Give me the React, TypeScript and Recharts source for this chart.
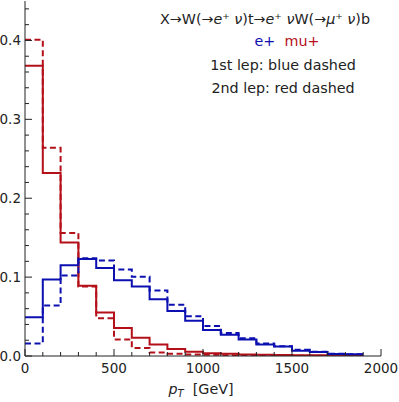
import { Line, LineChart, XAxis, YAxis } from "recharts"

// bin left edges (GeV); last edge closes the final bin
const binEdges = [0, 100, 200, 300, 400, 500, 600, 700, 800, 900, 1000, 1100, 1200, 1300, 1400, 1500, 1600, 1700, 1800, 1900]

const redSolid = [0.368, 0.232, 0.144, 0.089, 0.055, 0.0355, 0.023, 0.0145, 0.009, 0.0055, 0.0035, 0.003, 0.002, 0.0015, 0.0012, 0.001, 0.0008, 0.0006, 0.0005]
const redDashed = [0.401, 0.264, 0.156, 0.088, 0.048, 0.021, 0.01, 0.0045, 0.003, 0.002, 0.0015, 0.001, 0.0008, 0.0006, 0.0005, 0.0004, 0.0003, 0.0002, 0.0002]
const blueSolid = [0.049, 0.097, 0.115, 0.123, 0.1115, 0.096, 0.088, 0.072, 0.057, 0.0446, 0.033, 0.027, 0.021, 0.0145, 0.012, 0.0065, 0.005, 0.0025, 0.0022]
const blueDashed = [0.016, 0.064, 0.102, 0.124, 0.121, 0.1095, 0.1005, 0.083, 0.065, 0.0505, 0.038, 0.029, 0.0225, 0.016, 0.0125, 0.0078, 0.0055, 0.003, 0.0022]

const xTicks = [0, 100, 200, 300, 400, 500, 600, 700, 800, 900, 1000, 1100, 1200, 1300, 1400, 1500, 1600, 1700, 1800, 1900, 2000]
const yTicks = [0, 0.02, 0.04, 0.06, 0.08, 0.1, 0.12, 0.14, 0.16, 0.18, 0.2, 0.22, 0.24, 0.26, 0.28, 0.3, 0.32, 0.34, 0.36, 0.38, 0.4, 0.42, 0.44]

const BLUE = "#0c10b0"
const RED = "#b4101a"
const FRAME = "#222"
const FONT = "DejaVu Sans, sans-serif"

const last = blueSolid.length - 1
const data = binEdges.map((x, i) => ({
  x,
  rs: redSolid[Math.min(i, last)],
  rd: redDashed[Math.min(i, last)],
  bs: blueSolid[Math.min(i, last)],
  bd: blueDashed[Math.min(i, last)],
}))

const isMajorX = (v: number) => v % 500 === 0
const isMajorY = (v: number) => Math.abs(v * 10 - Math.round(v * 10)) < 1e-6

const BottomTick = ({ x, y, payload }: any) => {
  const major = isMajorX(payload.value)
  return (
    <g>
      <line x1={x} x2={x} y1={y} y2={y - (major ? 7 : 4)} stroke={FRAME} />
      {major && (
        <text x={x} y={y + 17} textAnchor="middle" fontSize={13.5} fontFamily={FONT} fill={FRAME}>
          {payload.value}
        </text>
      )}
    </g>
  )
}

const TopTick = ({ x, y, payload }: any) => (
  <line x1={x} x2={x} y1={y} y2={y + (isMajorX(payload.value) ? 7 : 4)} stroke={FRAME} />
)

const LeftTick = ({ x, y, payload }: any) => {
  const major = isMajorY(payload.value)
  return (
    <g>
      <line x1={x} x2={x + (major ? 7 : 4)} y1={y} y2={y} stroke={FRAME} />
      {major && (
        <text x={x - 4} y={y} dy="0.36em" textAnchor="end" fontSize={13.5} fontFamily={FONT} fill={FRAME}>
          {payload.value.toFixed(1)}
        </text>
      )}
    </g>
  )
}

const RightTick = ({ x, y, payload }: any) => (
  <line x1={x} x2={x - (isMajorY(payload.value) ? 7 : 4)} y1={y} y2={y} stroke={FRAME} />
)

export default function App() {
  return (
    <div style={{ position: "absolute", left: 0, top: 0, width: 399, height: 402, background: "#fff" }}>
      <LineChart width={399} height={402} data={data} margin={{ top: 1, right: 18, left: 0, bottom: 0 }}>
        <XAxis
          dataKey="x"
          type="number"
          domain={[0, 2000]}
          ticks={xTicks}
          interval={0}
          height={46}
          tickSize={0}
          tickMargin={0}
          tickLine={false}
          axisLine={{ stroke: FRAME }}
          tick={BottomTick}
          allowDataOverflow
        />
        <XAxis
          xAxisId="top"
          orientation="top"
          dataKey="x"
          type="number"
          domain={[0, 2000]}
          ticks={xTicks}
          interval={0}
          height={0}
          tickSize={0}
          tickMargin={0}
          tickLine={false}
          axisLine={{ stroke: FRAME }}
          tick={TopTick}
          allowDataOverflow
        />
        <YAxis
          type="number"
          domain={[0, 0.45]}
          ticks={yTicks}
          interval={0}
          width={25}
          tickSize={0}
          tickMargin={0}
          tickLine={false}
          axisLine={{ stroke: FRAME }}
          tick={LeftTick}
          allowDataOverflow
        />
        <YAxis
          yAxisId="right"
          orientation="right"
          type="number"
          domain={[0, 0.45]}
          ticks={yTicks}
          interval={0}
          width={0}
          tickSize={0}
          tickMargin={0}
          tickLine={false}
          axisLine={{ stroke: FRAME }}
          tick={RightTick}
          allowDataOverflow
        />
        <Line type="stepAfter" dataKey="rs" stroke={RED} strokeWidth={2} dot={false} activeDot={false} isAnimationActive={false} />
        <Line type="stepAfter" dataKey="rd" stroke={RED} strokeWidth={2} strokeDasharray="6 3.5" dot={false} activeDot={false} isAnimationActive={false} />
        <Line type="stepAfter" dataKey="bs" stroke={BLUE} strokeWidth={2} dot={false} activeDot={false} isAnimationActive={false} />
        <Line type="stepAfter" dataKey="bd" stroke={BLUE} strokeWidth={2} strokeDasharray="6 3.5" dot={false} activeDot={false} isAnimationActive={false} />
      </LineChart>
      <svg width={399} height={402} style={{ position: "absolute", left: 0, top: 0, pointerEvents: "none" }}>
        <g fontFamily={FONT} fontSize={14.3} fill={FRAME}>
          <text x={265} y={23.5} textAnchor="middle">
            X→W(→<tspan fontStyle="italic">e</tspan>⁺ <tspan fontStyle="italic">ν</tspan>)t→<tspan fontStyle="italic">e</tspan>⁺ <tspan fontStyle="italic">ν</tspan>W(→<tspan fontStyle="italic">μ</tspan>⁺ <tspan fontStyle="italic">ν</tspan>)b
          </text>
          <text x={287} y={46} textAnchor="middle">
            <tspan fill={BLUE}>e+</tspan>
            <tspan fill={RED}>{"\u00a0\u00a0mu+"}</tspan>
          </text>
          <text x={283} y={69.5} textAnchor="middle">1st lep: blue dashed</text>
          <text x={283} y={92.5} textAnchor="middle">2nd lep: red dashed</text>
          <text x={201} y={394} textAnchor="middle">
            <tspan fontStyle="italic">p</tspan>
            <tspan fontStyle="italic" fontSize={10} dy={3}>T</tspan>
            <tspan dy={-3}>{"\u00a0\u00a0[GeV]"}</tspan>
          </text>
        </g>
      </svg>
    </div>
  )
}
